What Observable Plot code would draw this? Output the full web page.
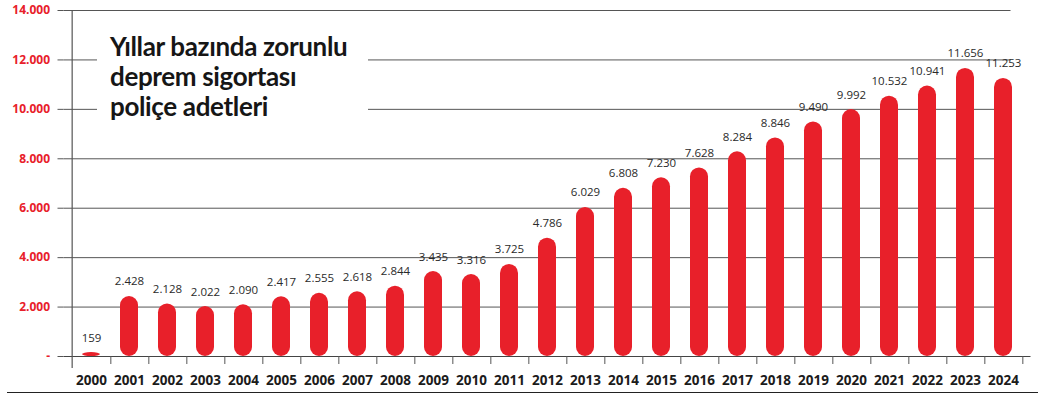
<!DOCTYPE html>
<html>
<head>
<meta charset="utf-8">
<script src="https://cdn.jsdelivr.net/npm/d3@7"></script>
<script src="https://cdn.jsdelivr.net/npm/@observablehq/plot@0.6"></script>
<style>
  html, body { margin: 0; padding: 0; background: #fff; }
  #wrap { position: relative; width: 1044px; height: 399px; overflow: hidden; }
  #title {
    position: absolute; left: 97px; top: 28px; width: 258px; height: 100px;
    padding-left: 13px; padding-top: 3px; background: #fff;
    font-family: Lato, "Open Sans", sans-serif; font-weight: 700;
    font-size: 26px; line-height: 30px; color: #161616; letter-spacing: -0.35px;
  }
  #rule { position: absolute; left: 7px; top: 392px; width: 1031px; height: 0; border-top: 1.5px solid #222; }
</style>
</head>
<body>
<div id="wrap">
  <div id="chart"></div>
  <div id="title">Yıllar bazında zorunlu<br>deprem sigortası<br>poliçe adetleri</div>
  <div id="rule"></div>
</div>
<script>
const years = ["2000","2001","2002","2003","2004","2005","2006","2007","2008","2009","2010","2011","2012","2013","2014","2015","2016","2017","2018","2019","2020","2021","2022","2023","2024"];
const values = [159,2428,2128,2022,2090,2417,2555,2618,2844,3435,3316,3725,4786,6029,6808,7230,7628,8284,8846,9490,9992,10532,10941,11656,11253];
const yTicks = [0,2000,4000,6000,8000,10000,12000,14000];

const data = years.map((year, i) => ({year, value: values[i]}));
const fmt = v => v === 0 ? "-" : d3.format(",")(v).replace(/,/g, ".");

const W = 1044, H = 399, ML = 63.5, MR = 13.5;
const step = (W - ML - MR) / years.length;
const red = "#e8202a";

const chart = Plot.plot({
  width: W, height: H,
  marginLeft: ML, marginRight: MR, marginTop: 10, marginBottom: 43,
  style: {fontFamily: "'Open Sans', sans-serif", background: "transparent", overflow: "visible"},
  x: {domain: years, paddingInner: 0.535, paddingOuter: 0.2675, axis: null},
  y: {domain: [0, 14000], axis: null},
  marks: [
    Plot.ruleY(yTicks.filter(d => d > 0), {stroke: "#555", strokeWidth: 1, insetRight: 20}),
    Plot.ruleY([0], {stroke: "#444", strokeWidth: 1.2}),
    Plot.ruleX([years[0]], {dx: -step / 2, stroke: "#555", strokeWidth: 1.2, insetBottom: -12}),
    Plot.ruleX(years, {x: d => d, y1: 0, y2: 0, dx: step / 2, stroke: "#555", strokeWidth: 1, insetBottom: -8}),
    Plot.axisY(yTicks, {tickSize: 6, tickPadding: 8, tickFormat: fmt, fill: red, stroke: "#555",
      fontSize: 12, fontWeight: 700, label: null}),
    Plot.axisX({tickSize: 0, tickPadding: 19, fontSize: 13.5, fontWeight: 700, fill: "#1b1b1b", label: null}),
    Plot.barY(data, {x: "year", y: "value", fill: red, rx: 9}),
    Plot.text(data, {x: "year", y: "value", text: d => fmt(d.value), dy: -11, lineAnchor: "bottom",
      fill: "#2a2a2a", fontSize: 11.5})
  ]
});
document.getElementById("chart").appendChild(chart);
</script>
</body>
</html>
